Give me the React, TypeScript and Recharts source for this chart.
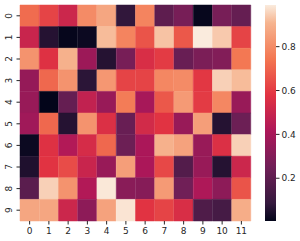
import { BarChart, Bar, XAxis, YAxis, Cell } from "recharts";

const colLabels = ["0", "1", "2", "3", "4", "5", "6", "7", "8", "9", "10", "11"];
const rowLabels = ["0", "1", "2", "3", "4", "5", "6", "7", "8", "9"];

// one array per heatmap row (row 0 is the top)
const row0 = [0.72, 0.62, 0.51, 0.8, 0.87, 0.08, 0.78, 0.2, 0.27, 0.012, 0.27, 0.22];
const row1 = [0.5, 0.06, 0.01, 0.02, 0.92, 0.78, 0.66, 0.93, 0.67, 0.99, 0.94, 0.62];
const row2 = [0.82, 0.57, 0.9, 0.37, 0.06, 0.27, 0.55, 0.6, 0.23, 0.28, 0.3, 0.75];
const row3 = [0.35, 0.71, 0.82, 0.07, 0.83, 0.62, 0.62, 0.79, 0.8, 0.59, 0.95, 0.92];
const row4 = [0.36, 0.005, 0.22, 0.48, 0.36, 0.76, 0.4, 0.67, 0.84, 0.6, 0.79, 0.36];
const row5 = [0.38, 0.71, 0.06, 0.82, 0.56, 0.23, 0.53, 0.58, 0.36, 0.85, 0.06, 0.24];
const row6 = [0.02, 0.57, 0.43, 0.54, 0.71, 0.24, 0.41, 0.9, 0.86, 0.36, 0.56, 0.95];
const row7 = [0.05, 0.58, 0.64, 0.5, 0.36, 0.85, 0.41, 0.63, 0.17, 0.36, 0.06, 0.51];
const row8 = [0.19, 0.95, 0.82, 0.43, 0.985, 0.32, 0.31, 0.84, 0.25, 0.42, 0.33, 0.66];
const row9 = [0.87, 0.87, 0.51, 0.33, 0.86, 0.98, 0.58, 0.62, 0.55, 0.16, 0.13, 0.89];
const rows = [row0, row1, row2, row3, row4, row5, row6, row7, row8, row9];

const cbarTicks = [0.2, 0.4, 0.6, 0.8];

// seaborn "rocket" colormap, sampled
const rocket: [number, string][] = [
  [0, "#03051a"],
  [0.083, "#35193e"],
  [0.25, "#701f57"],
  [0.417, "#ad1759"],
  [0.583, "#e13342"],
  [0.75, "#f37651"],
  [0.917, "#f6b48f"],
  [1, "#faebdd"],
];

const all = rows.flat();
const vmin = Math.min(...all);
const vmax = Math.max(...all);

function hexToRgb(h: string) {
  return [1, 3, 5].map((i) => parseInt(h.slice(i, i + 2), 16));
}

function rocketColor(v: number) {
  const t = Math.max(0, Math.min(1, (v - vmin) / (vmax - vmin)));
  for (let i = 1; i < rocket.length; i++) {
    if (t <= rocket[i][0]) {
      const [p0, c0] = rocket[i - 1];
      const [p1, c1] = rocket[i];
      const f = (t - p0) / (p1 - p0);
      const a = hexToRgb(c0);
      const b = hexToRgb(c1);
      const rgb = a.map((x, k) => Math.round(x + (b[k] - x) * f));
      return `rgb(${rgb.join(",")})`;
    }
  }
  return rocket[rocket.length - 1][1];
}

// every cell is a stacked segment of height 1
const heatData = colLabels.map((c) => {
  const d: Record<string, string | number> = { col: c };
  rowLabels.forEach((_, r) => (d[`r${r}`] = 1));
  return d;
});

const cbarData = [{ k: "cbar", range: [vmin, vmax] }];

const textColor = "#262626";
const font = "DejaVu Sans, sans-serif";

function RowTick(props: any) {
  const { x, y, payload } = props;
  return (
    <g transform={`translate(${x - 1},${y}) rotate(-90)`}>
      <text textAnchor="middle" fontSize={9} fill={textColor} fontFamily={font}>
        {rowLabels[Math.round(payload.value - 0.5)]}
      </text>
    </g>
  );
}

export default function App() {
  return (
    <div style={{ position: "absolute", left: 0, top: 0, width: 300, height: 241, background: "#fff" }}>
      <div style={{ position: "absolute", left: 0, top: 0 }}>
        <BarChart
          width={260}
          height={241}
          data={heatData}
          margin={{ top: 5, right: 9, left: 0, bottom: 0 }}
          barCategoryGap={0}
          barGap={0}
        >
          <XAxis
            dataKey="col"
            height={20}
            axisLine={false}
            tickSize={3.5}
            tickMargin={3}
            tickLine={{ stroke: textColor }}
            tick={{ fontSize: 9, fill: textColor, fontFamily: font }}
            interval={0}
          />
          <YAxis
            type="number"
            domain={[0, rowLabels.length]}
            reversed
            width={20}
            ticks={rowLabels.map((_, i) => i + 0.5)}
            axisLine={false}
            tickSize={3.5}
            tickMargin={4}
            tickLine={{ stroke: textColor }}
            tick={<RowTick />}
            interval={0}
          />
          {rows.map((vals, r) => (
            <Bar key={r} dataKey={`r${r}`} stackId="a" isAnimationActive={false}>
              {vals.map((v, c) => (
                <Cell key={c} fill={rocketColor(v)} stroke={rocketColor(v)} strokeWidth={0.5} />
              ))}
            </Bar>
          ))}
        </BarChart>
      </div>
      <div style={{ position: "absolute", left: 262, top: 0 }}>
        <BarChart
          width={38}
          height={241}
          data={cbarData}
          margin={{ top: 5, right: 0, left: 3, bottom: 20 }}
          barCategoryGap={0}
        >
          <defs>
            <linearGradient id="rocketGrad" x1="0" y1="1" x2="0" y2="0">
              {rocket.map(([p, c]) => (
                <stop key={p} offset={`${p * 100}%`} stopColor={c} />
              ))}
            </linearGradient>
          </defs>
          <XAxis dataKey="k" hide />
          <YAxis
            type="number"
            orientation="right"
            domain={[vmin, vmax]}
            allowDataOverflow
            ticks={cbarTicks}
            width={24}
            axisLine={false}
            tickSize={3.5}
            tickMargin={2}
            tickLine={{ stroke: textColor }}
            tick={{ fontSize: 9, fill: textColor, fontFamily: font }}
            tickFormatter={(v: number) => v.toFixed(1)}
          />
          <Bar dataKey="range" fill="url(#rocketGrad)" isAnimationActive={false} />
        </BarChart>
      </div>
    </div>
  );
}
